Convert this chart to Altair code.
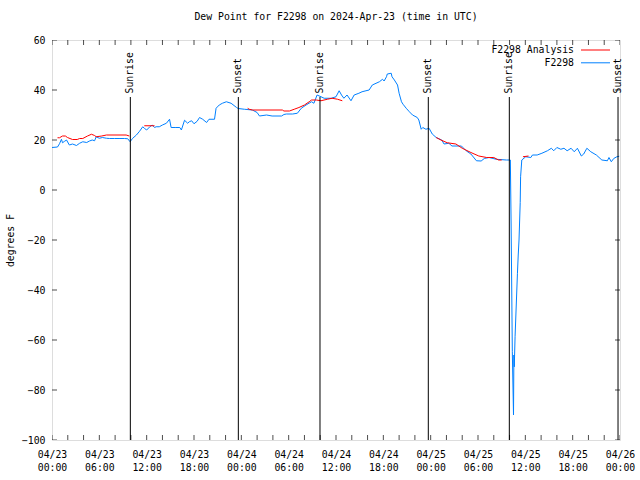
import json
import altair as alt
import pandas as pd

# ---------------- data (hours since 2024-04-23 00:00 UTC) ----------------
blue_hours = [0.0, 0.7, 0.95, 1.2, 1.33, 1.6, 1.84, 2.2, 2.6, 3.1, 3.5, 3.9, 4.4, 4.75, 5.1, 5.4, 5.6,
              6.0, 6.4, 6.9, 7.3, 7.9, 8.5, 9.2, 9.6, 9.9, 10.2, 10.7, 11.1, 11.5, 11.7, 12.0, 12.4,
              12.7, 13.0, 13.2, 13.6, 14.0, 14.5, 14.9, 15.1, 15.7, 16.2, 16.4, 16.8, 17.2, 17.4,
              17.7, 18.0, 18.4, 18.7, 19.1, 19.6, 19.9, 20.6, 20.8, 21.2, 21.6, 22.1, 22.7, 23.4,
              23.6, 24.4, 25.4, 26.0, 26.3, 27.2, 27.9, 29.1, 29.4, 29.7, 30.5, 31.1, 31.6, 32.2,
              32.9, 33.2, 33.6, 34.1, 34.5, 35.4, 36.0, 36.4, 36.7, 37.0, 37.4, 37.9, 38.3, 38.9,
              39.3, 39.8, 40.2, 40.6, 41.5, 41.9, 42.1, 42.4, 42.5, 43.0, 43.1, 43.4, 43.8, 44.0,
              44.3, 44.5, 44.9, 45.3, 45.7, 46.3, 46.5, 46.8, 47.0, 47.4, 47.8, 48.2, 48.7, 49.4,
              49.7, 50.3, 50.7, 51.9, 52.5, 53.1, 53.8, 54.4, 54.8, 55.4, 56.3, 57.6, 58.1, 58.2,
              58.35, 58.5, 58.55, 58.6, 58.7, 58.85, 59.0, 59.1, 59.2, 59.35, 59.4, 59.55, 60.05,
              60.7, 60.9, 61.5, 62.1, 62.8, 63.3, 63.6, 64.0, 64.5, 64.9, 65.3, 65.8, 66.2, 66.6,
              67.1, 67.4, 67.8, 68.3, 69.0, 69.7, 70.4, 70.6, 70.9, 71.2, 71.6, 71.9]
blue_values = [17.0, 17.2, 18.5, 20.3, 18.9, 19.5, 20.0, 18.0, 18.4, 17.8, 18.7, 19.3, 19.0, 19.6, 20.0,
               19.7, 21.3, 20.7, 21.0, 20.7, 20.6, 20.6, 20.6, 20.6, 20.5, 19.3, 20.6, 22.0, 23.5,
               25.3, 24.7, 24.0, 25.3, 26.0, 25.0, 25.3, 25.3, 26.0, 26.7, 28.3, 25.0, 25.0, 25.0,
               24.0, 27.9, 26.7, 27.3, 27.7, 26.5, 27.5, 29.0, 28.3, 27.0, 28.3, 28.3, 32.7, 34.0,
               34.7, 35.3, 34.7, 33.0, 32.6, 32.3, 32.0, 31.0, 29.6, 30.0, 29.6, 29.6, 30.2, 30.4,
               30.4, 30.7, 32.7, 34.0, 35.3, 34.7, 38.0, 37.3, 36.7, 36.7, 37.3, 39.7, 38.0, 36.7,
               38.0, 35.7, 38.0, 38.7, 39.3, 39.7, 40.0, 42.0, 43.3, 44.3, 43.6, 45.3, 46.4, 46.7,
               45.3, 44.0, 42.0, 38.7, 35.3, 34.3, 32.7, 31.3, 30.0, 29.0, 28.0, 24.3, 25.0, 24.3,
               24.7, 22.4, 21.0, 20.0, 18.4, 18.7, 17.6, 17.6, 15.7, 14.4, 11.7, 11.6, 12.6, 13.0,
               12.3, 12.0, 12.0, -14.0, -64.7, -90.0, -66.0, -70.7, -58.7, -46.0, -33.3, -26.0,
               -20.0, -5.0, 5.3, 12.0, 13.3, 13.0, 14.0, 14.0, 14.7, 15.7, 16.7, 15.7, 17.0, 16.3,
               16.7, 15.7, 16.7, 15.3, 16.7, 13.6, 14.4, 16.7, 15.3, 14.0, 12.0, 11.7, 13.0, 11.3,
               12.6, 13.3, 13.5]

red_hours = [0.7, 0.95, 1.33, 1.7, 1.96, 2.6, 3.2, 3.5, 3.9, 4.5, 5.0, 5.4, 5.6, 6.3, 6.9, 9.4, 9.8,
             11.7, 13.0,
             24.8, 25.0, 25.4, 29.2, 29.4, 30.1, 30.7, 31.3, 32.0, 32.6, 32.9, 33.5, 34.1, 34.9,
             35.5, 36.2, 36.8,
             48.7, 49.3, 50.1, 51.2, 52.0, 53.1, 54.1, 55.1, 56.0, 56.6, 57.0,
             59.7, 60.4]
red_values = [20.9, 20.9, 21.6, 21.6, 21.0, 20.2, 20.2, 20.6, 20.6, 21.6, 22.3, 21.8, 21.3, 21.6,
              22.0, 22.0, 21.6,
              25.7, 25.7,
              32.7, 32.3, 32.0, 32.0, 31.6, 31.6, 32.3, 33.0, 34.0, 35.3, 36.0, 36.0, 35.7, 36.3,
              36.7, 36.3, 35.7,
              21.0, 20.0, 18.9, 18.4, 16.7, 15.0, 13.6, 13.0, 13.0, 12.0, 12.0,
              13.3, 13.6]
red_segments = [1] * 17 + [2] * 2 + [3] * 17 + [4] * 11 + [5] * 2

sun_hours = [9.93, 23.62, 33.97, 47.7, 57.97, 71.75]
sun_labels = ["Sunrise", "Sunset", "Sunrise", "Sunset", "Sunrise", "Sunset"]

x_tick_hours = list(range(0, 73, 6))
x_tick_labels = ["04/23|00:00", "04/23|06:00", "04/23|12:00", "04/23|18:00",
                 "04/24|00:00", "04/24|06:00", "04/24|12:00", "04/24|18:00",
                 "04/25|00:00", "04/25|06:00", "04/25|12:00", "04/25|18:00",
                 "04/26|00:00"]
x_minor_hours = list(range(0, 73, 2))
y_tick_values = list(range(-100, 61, 20))

series_names = ["F2298 Analysis", "F2298"]

# ---------------- styling ----------------
FONT = "DejaVu Sans Mono"
FS = 9.8
BLUE = "#0080ff"
RED = "#ff0000"

xscale = alt.Scale(domain=[0, 72], nice=False, zero=False)
yscale = alt.Scale(domain=[-100, 60], nice=False, zero=False)

blue_df = pd.DataFrame({"hour": blue_hours, "dew": blue_values})
red_df = pd.DataFrame({"hour": red_hours, "dew": red_values, "seg": red_segments})
sun_df = pd.DataFrame({"hour": sun_hours, "label": sun_labels})
xt_df = pd.DataFrame({"hour": x_minor_hours})
yt_df = pd.DataFrame({"dew": y_tick_values})

label_expr = f"split({json.dumps(x_tick_labels)}[round(datum.value/6)], '|')"

x_axis = alt.Axis(values=x_tick_hours, labelExpr=label_expr, ticks=False, domain=False,
                  grid=False, title=None, labelFont=FONT, labelFontSize=FS,
                  labelColor="black", labelPadding=9, labelLineHeight=13,
                  labelFlush=False, labelOverlap=False)
y_axis = alt.Axis(values=y_tick_values, ticks=False, domain=False, grid=False,
                  title="degrees F", labelFont=FONT, labelFontSize=FS, labelColor="black",
                  labelPadding=7, titleFont=FONT, titleFontSize=FS, titleFontWeight="normal",
                  titleColor="black", titlePadding=6, labelFlush=False, labelOverlap=False)

blue = alt.Chart(blue_df).mark_line(color=BLUE, strokeWidth=1).encode(
    x=alt.X("hour:Q", scale=xscale, axis=x_axis),
    y=alt.Y("dew:Q", scale=yscale, axis=y_axis),
)
red = alt.Chart(red_df).mark_line(color=RED, strokeWidth=1).encode(
    x=alt.X("hour:Q", axis=None),
    y=alt.Y("dew:Q", axis=None),
    detail="seg:N",
)

sun_rules = alt.Chart(sun_df).mark_rule(color="black", strokeWidth=1).encode(
    x=alt.X("hour:Q", axis=None),
    y=alt.YDatum(37.2, axis=None),
    y2=alt.Y2Datum(-100),
)
sun_text = alt.Chart(sun_df).mark_text(
    angle=270, align="left", baseline="middle", font=FONT, fontSize=FS, color="black"
).encode(
    x=alt.X("hour:Q", axis=None),
    y=alt.YDatum(38.6, axis=None),
    text="label:N",
)

tick_kw = dict(color="black", thickness=1, size=10, clip=True)
bottom_ticks = alt.Chart(xt_df).mark_tick(orient="vertical", **tick_kw).encode(
    x=alt.X("hour:Q", axis=None), y=alt.YDatum(-100, axis=None))
top_ticks = alt.Chart(xt_df).mark_tick(orient="vertical", **tick_kw).encode(
    x=alt.X("hour:Q", axis=None), y=alt.YDatum(60, axis=None))
left_ticks = alt.Chart(yt_df).mark_tick(orient="horizontal", **tick_kw).encode(
    y=alt.Y("dew:Q", axis=None), x=alt.XDatum(0, axis=None))
right_ticks = alt.Chart(yt_df).mark_tick(orient="horizontal", **tick_kw).encode(
    y=alt.Y("dew:Q", axis=None), x=alt.XDatum(72, axis=None))

legend_layers = []
for i, (name, col) in enumerate(zip(series_names, [RED, BLUE])):
    ly = 10 + 12.8 * i
    one = pd.DataFrame({"name": [name]})
    legend_layers.append(
        alt.Chart(one).mark_text(align="right", baseline="middle", font=FONT, fontSize=FS,
                                 color="black").encode(
            x=alt.value(522), y=alt.value(ly), text="name:N"))
    legend_layers.append(
        alt.Chart(one).mark_rule(color=col, strokeWidth=1).encode(
            x=alt.value(529), x2=alt.value(558), y=alt.value(ly)))

chart = alt.layer(
    blue, red, sun_rules, sun_text, bottom_ticks, top_ticks, left_ticks, right_ticks,
    *legend_layers,
).resolve_axis(x="independent", y="independent").properties(
    width=568,
    height=400,
    autosize=alt.AutoSizeParams(type="none"),
    padding={"left": 52, "top": 40, "right": 20, "bottom": 40},
    title=alt.TitleParams("Dew Point for F2298 on 2024-Apr-23 (time in UTC)", font=FONT,
                          fontSize=FS, fontWeight="normal", color="black", offset=13,
                          anchor="middle"),
).configure_view(stroke="black", strokeWidth=1).configure(background="white")

chart.save("out.html", embed_options={"renderer": "svg", "actions": False})
